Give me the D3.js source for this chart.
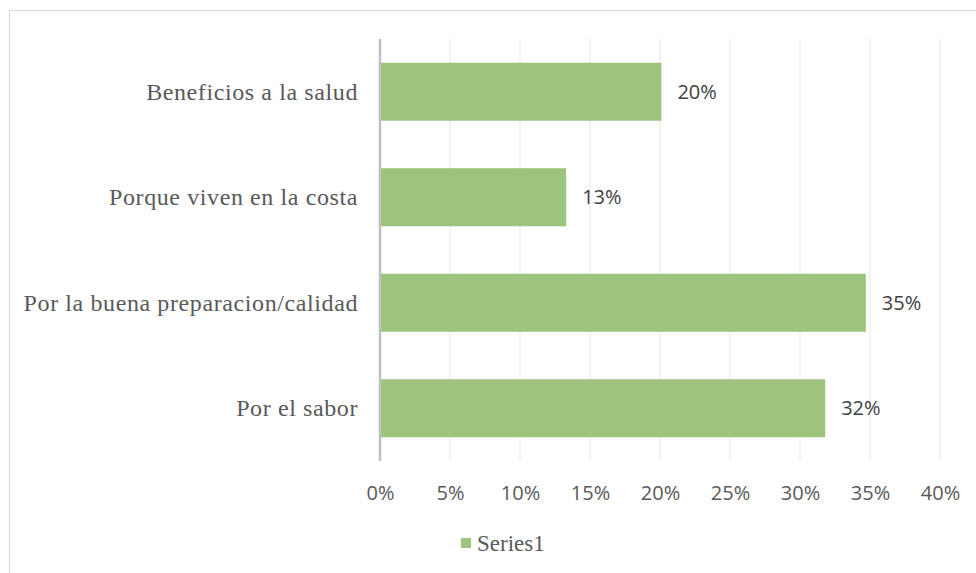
<!DOCTYPE html>
<html>
<head>
<meta charset="utf-8">
<script src="https://cdn.jsdelivr.net/npm/d3@7"></script>
<style>
  body { margin: 0; background: #fff; }
  svg { display: block; }
</style>
</head>
<body>
<div id="content"></div>
<script>
// data
var categories = ["Beneficios a la salud", "Porque viven en la costa", "Por la buena preparacion/calidad", "Por el sabor"];
var values = [0.201, 0.133, 0.347, 0.318];
var valueLabels = ["20%", "13%", "35%", "32%"];
var ticks = [0, 0.05, 0.10, 0.15, 0.20, 0.25, 0.30, 0.35, 0.40];
var seriesName = "Series1";

var width = 976, height = 573;
var barColor = "#9dc47d";

var svg = d3.select("#content").append("svg").attr("width", width).attr("height", height);

// chart border
svg.append("rect").attr("x", 9.5).attr("y", 10.5).attr("width", 1000).attr("height", 1000)
  .attr("fill", "none").attr("stroke", "#d9d9d9").attr("stroke-width", 1);

var x = d3.scaleLinear().domain([0, 0.40]).range([380, 940]);
var y = d3.scaleBand().domain(categories).range([39, 461]).paddingInner(0.45).paddingOuter(0.225);

// gridlines
svg.append("g").selectAll("line").data(ticks.slice(1)).enter().append("line")
  .attr("x1", d => x(d)).attr("x2", d => x(d))
  .attr("y1", 39).attr("y2", 461)
  .attr("stroke", "#ededed").attr("stroke-width", 1.3);

// bars
svg.append("g").selectAll("rect").data(values).enter().append("rect")
  .attr("x", x(0))
  .attr("y", (d, i) => y(categories[i]))
  .attr("width", d => x(d) - x(0))
  .attr("height", y.bandwidth())
  .attr("fill", barColor);

// value labels
svg.append("g").selectAll("text").data(values).enter().append("text")
  .attr("x", d => x(d) + 16)
  .attr("y", (d, i) => y(categories[i]) + y.bandwidth() / 2)
  .attr("dy", "0.36em")
  .style("font-family", "'Open Sans', sans-serif").style("font-size", "20px").style("fill", "#404040")
  .text((d, i) => valueLabels[i]);

// category axis line
svg.append("line").attr("x1", 380).attr("x2", 380).attr("y1", 39).attr("y2", 461)
  .attr("stroke", "#bfbfbf").attr("stroke-width", 2.5);

// category labels
svg.append("g").selectAll("text").data(categories).enter().append("text")
  .attr("x", 358)
  .attr("y", d => y(d) + y.bandwidth() / 2)
  .attr("dy", "0.33em")
  .attr("text-anchor", "end")
  .style("font-family", "'Liberation Serif', 'Times New Roman', serif").style("font-size", "24px")
  .style("letter-spacing", "0.6px").style("fill", "#595959")
  .text(d => d);

// value axis labels
var xAxis = d3.axisBottom(x).tickValues(ticks).tickFormat(d3.format(".0%")).tickSize(0).tickPadding(0);
var gx = svg.append("g").attr("transform", "translate(0,493)").call(xAxis);
gx.select(".domain").remove();
gx.selectAll("text").attr("dy", "0.36em")
  .style("font-family", "'Open Sans', sans-serif").style("font-size", "20px").style("fill", "#595959");

// legend
var legend = svg.append("g").attr("transform", "translate(461,543)");
legend.append("rect").attr("x", 0).attr("y", -5).attr("width", 10).attr("height", 10).attr("fill", barColor);
legend.append("text").attr("x", 16).attr("y", 0).attr("dy", "0.33em")
  .style("font-family", "'Liberation Serif', 'Times New Roman', serif").style("font-size", "23px").style("fill", "#595959")
  .text(seriesName);
</script>
</body>
</html>
